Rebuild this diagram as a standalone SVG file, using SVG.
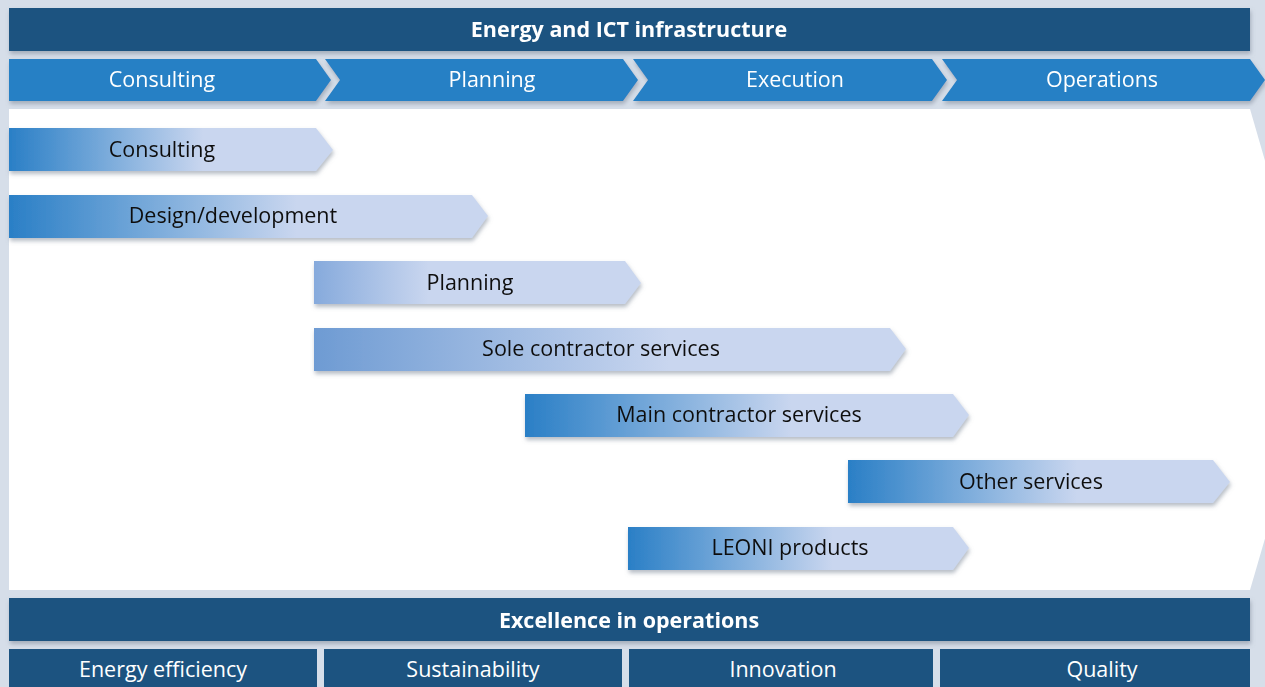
<svg xmlns="http://www.w3.org/2000/svg" width="1265" height="687" viewBox="0 0 1265 687">
<defs>
<style>
.dark{fill:#1c5380}
.phase{fill:#2680c5}
.wt{fill:#ffffff;font-family:"Open Sans","Noto Sans",sans-serif;font-size:21.5px;text-anchor:middle}
.bt{font-weight:bold;font-size:21.5px}
.kt{fill:#111111;font-family:"Open Sans","Noto Sans",sans-serif;font-size:21.5px;text-anchor:middle}
</style>
<filter id="sh" x="-5%" y="-20%" width="110%" height="160%">
<feDropShadow dx="1" dy="3" stdDeviation="2" flood-color="#7a8595" flood-opacity="0.55"/>
</filter>
<linearGradient id="gA" x1="0" y1="0" x2="1" y2="0">
<stop offset="0" stop-color="#2a7fc6"/><stop offset="0.6" stop-color="#c9d6ef"/><stop offset="1" stop-color="#c9d6ef"/>
</linearGradient>
<linearGradient id="gP" x1="0" y1="0" x2="1" y2="0">
<stop offset="0" stop-color="#86aadc"/><stop offset="0.35" stop-color="#c9d6ef"/><stop offset="1" stop-color="#c9d6ef"/>
</linearGradient>
<linearGradient id="gS" x1="0" y1="0" x2="1" y2="0">
<stop offset="0" stop-color="#6e9bd3"/><stop offset="0.6" stop-color="#c9d6ef"/><stop offset="1" stop-color="#c9d6ef"/>
</linearGradient>
</defs>
<rect x="0" y="0" width="1265" height="687" fill="#d6dee9"/>
<g id="panel">
<polygon points="9,109 1250,109 1320,350 1250,590 9,590" fill="#ffffff"/>
</g>
<g id="title" filter="url(#sh)">
<rect class="dark" x="9" y="8" width="1241" height="43"/>
<text class="wt bt" x="629" y="37">Energy and ICT infrastructure</text>
</g>
<g id="phases">
<g id="phase-consulting" filter="url(#sh)">
<polygon class="phase" points="9,59 316,59 331,80 316,101 9,101"/>
<text class="wt" x="162" y="87">Consulting</text>
</g>
<g id="phase-planning" filter="url(#sh)">
<polygon class="phase" points="325,59 623,59 638,80 623,101 325,101 340,80"/>
<text class="wt" x="492" y="87">Planning</text>
</g>
<g id="phase-execution" filter="url(#sh)">
<polygon class="phase" points="633,59 932,59 947,80 932,101 633,101 648,80"/>
<text class="wt" x="795" y="87">Execution</text>
</g>
<g id="phase-operations" filter="url(#sh)">
<polygon class="phase" points="942,59 1250,59 1265,80 1250,101 942,101 957,80"/>
<text class="wt" x="1102" y="87">Operations</text>
</g>
</g>
<g id="bars">
<g id="bar-consulting" filter="url(#sh)">
<polygon points="9,128 316,128 333,150 316,171 9,171" fill="url(#gA)"/>
<text class="kt" x="162" y="157">Consulting</text>
</g>
<g id="bar-design" filter="url(#sh)">
<polygon points="9,195 472,195 488,216 472,238 9,238" fill="url(#gA)"/>
<text class="kt" x="233" y="223">Design/development</text>
</g>
<g id="bar-planning" filter="url(#sh)">
<polygon points="314,261 625,261 641,283 625,304 314,304" fill="url(#gP)"/>
<text class="kt" x="470" y="290">Planning</text>
</g>
<g id="bar-sole" filter="url(#sh)">
<polygon points="314,328 890,328 906,349 890,371 314,371" fill="url(#gS)"/>
<text class="kt" x="601" y="356">Sole contractor services</text>
</g>
<g id="bar-main" filter="url(#sh)">
<polygon points="525,394 953,394 969,415 953,437 525,437" fill="url(#gA)"/>
<text class="kt" x="739" y="422">Main contractor services</text>
</g>
<g id="bar-other" filter="url(#sh)">
<polygon points="848,460 1213,460 1230,482 1213,503 848,503" fill="url(#gA)"/>
<text class="kt" x="1031" y="489">Other services</text>
</g>
<g id="bar-leoni" filter="url(#sh)">
<polygon points="628,527 953,527 969,548 953,570 628,570" fill="url(#gA)"/>
<text class="kt" x="790" y="555">LEONI products</text>
</g>
</g>
<g id="excellence" filter="url(#sh)">
<rect class="dark" x="9" y="598" width="1241" height="43"/>
<text class="wt bt" x="629" y="628">Excellence in operations</text>
</g>
<g id="pillars">
<g id="pillar-energy"><rect class="dark" x="9" y="649" width="308" height="40"/><text class="wt" x="163" y="677">Energy efficiency</text></g>
<g id="pillar-sustainability"><rect class="dark" x="324" y="649" width="298" height="40"/><text class="wt" x="473" y="677">Sustainability</text></g>
<g id="pillar-innovation"><rect class="dark" x="629" y="649" width="304" height="40"/><text class="wt" x="783" y="677">Innovation</text></g>
<g id="pillar-quality"><rect class="dark" x="940" y="649" width="310" height="40"/><text class="wt" x="1102" y="677">Quality</text></g>
</g>
</svg>
